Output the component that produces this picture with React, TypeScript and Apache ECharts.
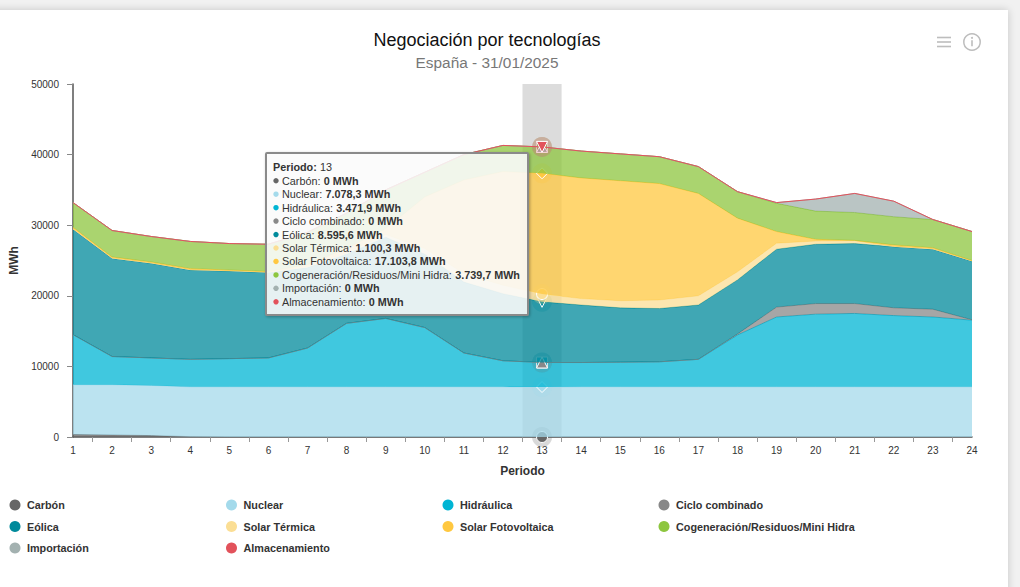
import React, { useEffect, useRef } from "react";
import * as echarts from "echarts";

const periods = ["1","2","3","4","5","6","7","8","9","10","11","12","13","14","15","16","17","18","19","20","21","22","23","24"];
const carbon = [350,300,200,50,0,0,0,0,0,0,0,0,0,0,0,0,0,0,0,0,0,0,0,0];
const nuclear = [7050,7100,7100,7050,7100,7100,7100,7100,7100,7100,7100,7100,7078.3,7100,7100,7100,7100,7100,7100,7100,7100,7100,7100,7100];
const hidraulica = [7100,4000,3900,3900,4000,4100,5500,9000,9700,8400,4800,3700,3471.9,3450,3500,3550,3900,7350,9900,10300,10400,10100,9900,9450];
const ciclo = [0,0,0,0,0,0,0,0,0,0,0,0,0,0,0,0,0,150,1400,1500,1400,1100,1100,50];
const eolica = [14900,13900,13400,12650,12400,12100,11400,9800,11500,10400,10050,9500,8595.6,8150,7700,7550,7700,7650,8200,8400,8500,8650,8500,8300];
const termica = [100,50,50,50,50,50,100,200,400,800,1200,1200,1100.3,900,1000,1200,1300,1150,850,450,400,50,50,50];
const fotovoltaica = [200,150,150,150,100,100,300,600,800,7300,13250,16100,17103.8,17100,17000,16500,14500,7600,1650,250,50,200,150,50];
const cogeneracion = [3500,3750,3600,3850,3750,3850,4600,5000,5500,3500,3600,3700,3739.7,3800,3800,3800,3800,3750,4000,4000,3950,4000,4000,4100];
const importacion = [0,0,0,0,0,0,0,0,0,0,0,0,0,0,0,0,0,0,100,1700,2700,2200,0,0];
const almacenamiento = [0,0,0,0,0,0,0,0,0,0,0,0,0,0,0,0,0,0,0,0,0,0,0,0];

const names = ["Carbón","Nuclear","Hidráulica","Ciclo combinado","Eólica","Solar Térmica","Solar Fotovoltaica","Cogeneración/Residuos/Mini Hidra","Importación","Almacenamiento"];
const values = [carbon,nuclear,hidraulica,ciclo,eolica,termica,fotovoltaica,cogeneracion,importacion,almacenamiento];
const colors = ["#666666","#A4DAEB","#00B5D4","#888888","#008A9B","#FBDE94","#FFC840","#8DC63F","#A3B1B0","#E2525B"];
const symbols = ["circle","diamond","rect","triangle","triangle","circle","diamond","rect","triangle","triangle"];
const rotations = [0,0,0,0,180,0,0,0,0,180];
const legendColumns = [
  [0,4,8],
  [1,5,9],
  [2,6],
  [3,7],
];
const legendLefts = [9.5,226,442.5,658.5];
const activeIndex = 12;
const fontFamily = "'Liberation Sans', Arial, sans-serif";

function fmt(v: number): string {
  if (v === 0) return "0";
  const [i, d] = v.toFixed(1).split(".");
  return i.replace(/\B(?=(\d{3})+$)/g, ".") + "," + d;
}

export default function App() {
  const ref = useRef<HTMLDivElement>(null);
  useEffect(() => {
    document.body.style.margin = "0";
    const chart = echarts.init(ref.current!, undefined, { renderer: "svg" });
    let cum = 0;
    const series = names.map((name, i) => {
      cum += values[i][activeIndex];
      const coord = [activeIndex, cum];
      return {
        name,
        type: "line",
        stack: "total",
        z: 20 + 2 * i,
        data: values[i],
        symbol: "none",
        showSymbol: false,
        lineStyle: { width: 1, color: colors[i] },
        itemStyle: { color: colors[i] },
        areaStyle: { color: colors[i], opacity: 0.75 },
        silent: true,
        markPoint: {
          silent: true,
          z: 21 + 2 * i,
          label: { show: false },
          data: [
            { coord, symbol: "circle", symbolSize: 20, itemStyle: { color: colors[i], opacity: 0.25 } },
            { coord, symbol: symbols[i], symbolRotate: rotations[i], symbolSize: 11, itemStyle: { color: colors[i], borderColor: "#fff", borderWidth: 1 } },
          ],
        },
      };
    });

    const tx = 266, ty = 153;
    const rowY = (k: number) => ty + 14.3 + k * 13.45;
    const tipRich = {
      n: { fontFamily, fontSize: 10.8, fill: "#333", fontWeight: "normal" },
      b: { fontFamily, fontSize: 10.8, fill: "#333", fontWeight: "bold" },
    };
    const tooltip: any[] = [
      { type: "rect", z: 200, silent: true, shape: { x: tx, y: ty, width: 262, height: 162, r: 1 },
        style: { fill: "rgba(255,255,255,0.85)", stroke: "#8a8a8a", lineWidth: 2, shadowBlur: 3, shadowOffsetX: 1, shadowOffsetY: 1, shadowColor: "rgba(0,0,0,0.3)" } },
      { type: "text", z: 201, silent: true, x: tx + 7, y: rowY(0), style: { text: `{b|Periodo:} {n|${periods[activeIndex]}}`, rich: tipRich, verticalAlign: "middle" } },
    ];
    names.forEach((name, i) => {
      const y = rowY(i + 1);
      tooltip.push({ type: "circle", z: 201, silent: true, shape: { cx: tx + 10, cy: y, r: 2.7 }, style: { fill: colors[i] } });
      tooltip.push({ type: "text", z: 201, silent: true, x: tx + 16, y,
        style: { text: `{n|${name}:} {b|${fmt(values[i][activeIndex])} MWh}`, rich: tipRich, verticalAlign: "middle" } });
    });

    const iconColor = "#bdbdbd";
    const icons: any[] = [37.5, 42, 46.5].map((y) => ({
      type: "line", silent: true, shape: { x1: 937, y1: y, x2: 951, y2: y }, style: { stroke: iconColor, lineWidth: 1.6 },
    }));
    icons.push(
      { type: "circle", silent: true, shape: { cx: 972, cy: 42, r: 8.2 }, style: { fill: "none", stroke: iconColor, lineWidth: 1.5 } },
      { type: "circle", silent: true, shape: { cx: 972, cy: 37.8, r: 1 }, style: { fill: iconColor } },
      { type: "rect", silent: true, shape: { x: 971.2, y: 40.2, width: 1.6, height: 6 }, style: { fill: iconColor } },
    );

    chart.setOption({
      animation: false,
      title: {
        text: "Negociación por tecnologías",
        subtext: "España - 31/01/2025",
        left: 487,
        textAlign: "center",
        top: 31,
        itemGap: 6,
        padding: 0,
        textStyle: { fontFamily, fontSize: 18, fontWeight: "normal", color: "#111" },
        subtextStyle: { fontFamily, fontSize: 15.4, color: "#777" },
      },
      grid: { left: 73, right: 48, top: 84, bottom: 150, outerBoundsMode: "none" },
      legend: legendColumns.map((col, c) => ({
        orient: "vertical",
        left: legendLefts[c],
        top: 499.5,
        padding: 0,
        itemWidth: 11,
        itemHeight: 11,
        itemGap: 10.5,
        icon: "circle",
        selectedMode: false,
        data: col.map((i) => names[i]),
        textStyle: { fontFamily, fontSize: 10.8, fontWeight: "bold", color: "#333", padding: [0, 0, 0, 1.5] },
      })),
      xAxis: [
        {
          type: "category",
          data: periods,
          boundaryGap: false,
          name: "Periodo",
          nameLocation: "middle",
          nameGap: 28,
          nameTextStyle: { fontFamily, fontSize: 12, fontWeight: "bold", color: "#333" },
          axisLine: { show: true, lineStyle: { color: "#555", width: 1.5 } },
          axisTick: { show: false },
          axisLabel: { interval: 0, margin: 8, fontFamily, fontSize: 10, color: "#333" },
          splitLine: { show: false },
          axisPointer: {
            show: true,
            type: "shadow",
            status: "show",
            value: activeIndex,
            z: 1,
            label: { show: false },
            shadowStyle: { color: "rgba(150,150,150,0.33)" },
          },
        },
        {
          type: "category",
          position: "bottom",
          boundaryGap: false,
          data: Array.from({ length: periods.length * 2 - 1 }, (_, k) => String(k)),
          axisLine: { show: false },
          axisLabel: { show: false },
          axisTick: { show: true, length: 5, lineStyle: { color: "#999", width: 1 }, interval: (k: number) => k % 2 === 1 },
          splitLine: { show: false },
        },
      ],
      yAxis: {
        type: "value",
        min: 0,
        max: 50000,
        interval: 10000,
        name: "MWh",
        nameLocation: "middle",
        nameRotate: 90,
        nameGap: 50,
        nameTextStyle: { fontFamily, fontSize: 12, fontWeight: "bold", color: "#333" },
        axisLine: { show: true, lineStyle: { color: "#555", width: 1.5 } },
        axisTick: { show: true, length: 6, lineStyle: { color: "#888", width: 1 } },
        axisLabel: { margin: 14, fontFamily, fontSize: 10, color: "#333", padding: [2, 0, 0, 0], formatter: (v: number) => String(v) },
        splitLine: { show: false },
      },
      series,
      graphic: [...icons, ...tooltip],
    });
    return () => chart.dispose();
  }, []);

  return (
    <div style={{ position: "fixed", left: 0, top: 0, width: 1020, height: 587, background: "#f1f1f1", overflow: "hidden" }}>
      <div style={{ position: "absolute", left: -10, top: 10, width: 1018, height: 600, background: "#fff", boxShadow: "0 0 8px rgba(0,0,0,0.18)" }} />
      <div ref={ref} style={{ position: "absolute", left: 0, top: 0, width: 1020, height: 587 }} />
    </div>
  );
}
